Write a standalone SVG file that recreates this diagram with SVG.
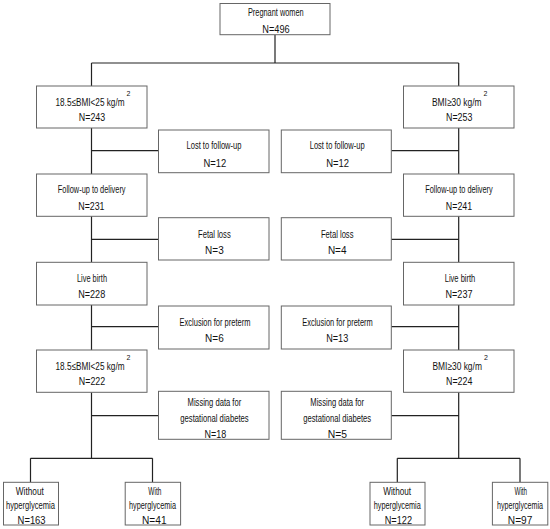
<svg xmlns="http://www.w3.org/2000/svg" width="550" height="529" viewBox="0 0 550 529">
<style>
.box{fill:#fff;stroke:#666;stroke-width:1}
.ln{fill:none;stroke:#222;stroke-width:1.2}
text{font-family:"Liberation Sans",Arial,sans-serif;font-size:11px;fill:#111;text-anchor:middle}
.st{text-anchor:start}
.sup{font-size:7px;text-anchor:start}
</style>
<rect width="550" height="529" fill="#fff"/>
<g id="connectors">
<path class="ln" d="M275 34.5V63M91.5 63H458.7M91.5 63V86M458.7 63V86"/>
<path class="ln" d="M91.5 128V174M91.5 150.7H158.5M458.7 128V174M391.3 150.7H458.7"/>
<path class="ln" d="M91.5 216V262.3M91.5 239.3H158.5M458.7 216V262.3M391.3 239.3H458.7"/>
<path class="ln" d="M91.5 305V350M91.5 326.7H158.5M458.7 305V350M391.3 326.7H458.7"/>
<path class="ln" d="M91.5 392.3V458.3M91.5 415.7H158.5M458.7 392.3V458.3M391.3 415.7H458.7"/>
<path class="ln" d="M30.5 458.3H152.5M30.5 458.3V482.3M152.5 458.3V482.3M397.3 458.3H520M397.3 458.3V482.3M520 458.3V482.3"/>
</g>
<g id="n-pregnant"><rect class="box" x="220" y="3.5" width="110" height="31.2"/>
<text x="275.8" y="16" textLength="55.8" lengthAdjust="spacingAndGlyphs">Pregnant women</text>
<text x="276" y="32.5" textLength="27.4" lengthAdjust="spacingAndGlyphs">N=496</text></g>
<g id="n-bmi-l1"><rect class="box" x="36.5" y="86" width="110.5" height="42"/>
<text class="st" x="55.5" y="106" textLength="69" lengthAdjust="spacingAndGlyphs">18.5≤BMI&lt;25 kg/m</text><text class="sup" x="126.5" y="96">2</text>
<text x="92" y="120.7" textLength="26.3" lengthAdjust="spacingAndGlyphs">N=243</text></g>
<g id="n-bmi-r1"><rect class="box" x="403.5" y="86" width="110.5" height="42"/>
<text class="st" x="432" y="106" textLength="49.5" lengthAdjust="spacingAndGlyphs">BMI≥30 kg/m</text><text class="sup" x="483.5" y="96">2</text>
<text x="459.2" y="120.7" textLength="26.3" lengthAdjust="spacingAndGlyphs">N=253</text></g>
<g id="n-lost-l"><rect class="box" x="158.5" y="130" width="110.5" height="42.7"/>
<text x="214" y="149.3" textLength="55" lengthAdjust="spacingAndGlyphs">Lost to follow-up</text>
<text x="214.8" y="166.5" textLength="22.8" lengthAdjust="spacingAndGlyphs">N=12</text></g>
<g id="n-lost-r"><rect class="box" x="281.3" y="130" width="110" height="42.7"/>
<text x="337.2" y="149.3" textLength="55" lengthAdjust="spacingAndGlyphs">Lost to follow-up</text>
<text x="337.6" y="166.5" textLength="22.8" lengthAdjust="spacingAndGlyphs">N=12</text></g>
<g id="n-follow-l"><rect class="box" x="36.5" y="174" width="110.5" height="42.3"/>
<text x="91.7" y="193" textLength="67.7" lengthAdjust="spacingAndGlyphs">Follow-up to delivery</text>
<text x="91.4" y="209.5" textLength="26.3" lengthAdjust="spacingAndGlyphs">N=231</text></g>
<g id="n-follow-r"><rect class="box" x="403.5" y="174" width="110.5" height="42.3"/>
<text x="459" y="193" textLength="67.5" lengthAdjust="spacingAndGlyphs">Follow-up to delivery</text>
<text x="459" y="209.5" textLength="26.3" lengthAdjust="spacingAndGlyphs">N=241</text></g>
<g id="n-fetal-l"><rect class="box" x="158.5" y="217.7" width="110.5" height="42.3"/>
<text x="214.4" y="238.3" textLength="32.6" lengthAdjust="spacingAndGlyphs">Fetal loss</text>
<text x="214.4" y="254" textLength="18.6" lengthAdjust="spacingAndGlyphs">N=3</text></g>
<g id="n-fetal-r"><rect class="box" x="281.3" y="217.7" width="110" height="42.3"/>
<text x="337.2" y="238.3" textLength="32.6" lengthAdjust="spacingAndGlyphs">Fetal loss</text>
<text x="337.2" y="254" textLength="18.6" lengthAdjust="spacingAndGlyphs">N=4</text></g>
<g id="n-live-l"><rect class="box" x="36.5" y="262.3" width="110.5" height="42.7"/>
<text x="92" y="281.5" textLength="30" lengthAdjust="spacingAndGlyphs">Live birth</text>
<text x="91.7" y="297.8" textLength="27" lengthAdjust="spacingAndGlyphs">N=228</text></g>
<g id="n-live-r"><rect class="box" x="403.5" y="262.3" width="110.5" height="42.7"/>
<text x="460" y="281.5" textLength="30.5" lengthAdjust="spacingAndGlyphs">Live birth</text>
<text x="459" y="297.8" textLength="27" lengthAdjust="spacingAndGlyphs">N=237</text></g>
<g id="n-excl-l"><rect class="box" x="158.5" y="306" width="110.5" height="43"/>
<text x="215" y="325.5" textLength="70.8" lengthAdjust="spacingAndGlyphs">Exclusion for preterm</text>
<text x="214.4" y="341.8" textLength="18.6" lengthAdjust="spacingAndGlyphs">N=6</text></g>
<g id="n-excl-r"><rect class="box" x="281.3" y="306" width="110" height="43"/>
<text x="337.5" y="325.5" textLength="70.5" lengthAdjust="spacingAndGlyphs">Exclusion for preterm</text>
<text x="337.2" y="341.8" textLength="22" lengthAdjust="spacingAndGlyphs">N=13</text></g>
<g id="n-bmi-l2"><rect class="box" x="36.5" y="350" width="110.5" height="42.3"/>
<text class="st" x="55.5" y="370" textLength="69" lengthAdjust="spacingAndGlyphs">18.5≤BMI&lt;25 kg/m</text><text class="sup" x="126.5" y="360">2</text>
<text x="92" y="384.7" textLength="26.3" lengthAdjust="spacingAndGlyphs">N=222</text></g>
<g id="n-bmi-r2"><rect class="box" x="403.5" y="350" width="110.5" height="42.3"/>
<text class="st" x="432.4" y="370" textLength="49.5" lengthAdjust="spacingAndGlyphs">BMI≥30 kg/m</text><text class="sup" x="483.9" y="360">2</text>
<text x="459.2" y="384.7" textLength="26.3" lengthAdjust="spacingAndGlyphs">N=224</text></g>
<g id="n-miss-l"><rect class="box" x="158.5" y="391.3" width="110.5" height="48"/>
<text x="214.4" y="405.7" textLength="53.7" lengthAdjust="spacingAndGlyphs">Missing data for</text>
<text x="214.5" y="422" textLength="68.4" lengthAdjust="spacingAndGlyphs">gestational diabetes</text>
<text x="215.3" y="437.7" textLength="21.7" lengthAdjust="spacingAndGlyphs">N=18</text></g>
<g id="n-miss-r"><rect class="box" x="281.3" y="391.3" width="110" height="48"/>
<text x="337.2" y="405.7" textLength="53.7" lengthAdjust="spacingAndGlyphs">Missing data for</text>
<text x="337.2" y="422" textLength="67.7" lengthAdjust="spacingAndGlyphs">gestational diabetes</text>
<text x="337.5" y="437.7" textLength="19.3" lengthAdjust="spacingAndGlyphs">N=5</text></g>
<g id="n-without-l"><rect class="box" x="3.5" y="482.3" width="55" height="42.7"/>
<text x="29.8" y="495" textLength="28" lengthAdjust="spacingAndGlyphs">Without</text>
<text x="30.5" y="509" textLength="49" lengthAdjust="spacingAndGlyphs">hyperglycemia</text>
<text x="31.6" y="524" textLength="28" lengthAdjust="spacingAndGlyphs">N=163</text></g>
<g id="n-with-l"><rect class="box" x="125.2" y="482.3" width="55.4" height="42.7"/>
<text x="154.8" y="495" textLength="13" lengthAdjust="spacingAndGlyphs">With</text>
<text x="152.5" y="509" textLength="47" lengthAdjust="spacingAndGlyphs">hyperglycemia</text>
<text x="154.3" y="524" textLength="24.5" lengthAdjust="spacingAndGlyphs">N=41</text></g>
<g id="n-without-r"><rect class="box" x="370" y="482.3" width="55" height="42.7"/>
<text x="397.2" y="495" textLength="27.7" lengthAdjust="spacingAndGlyphs">Without</text>
<text x="397.3" y="509" textLength="47" lengthAdjust="spacingAndGlyphs">hyperglycemia</text>
<text x="398.4" y="524" textLength="27.4" lengthAdjust="spacingAndGlyphs">N=122</text></g>
<g id="n-with-r"><rect class="box" x="492.4" y="482.3" width="55.4" height="42.7"/>
<text x="520.8" y="495" textLength="12.6" lengthAdjust="spacingAndGlyphs">With</text>
<text transform="translate(520 509) scale(0.65 1)" x="0" y="0" textLength="70.8" lengthAdjust="spacingAndGlyphs">hyperglycemia</text>
<text x="520.1" y="524" textLength="24.5" lengthAdjust="spacingAndGlyphs">N=97</text></g>
</svg>
